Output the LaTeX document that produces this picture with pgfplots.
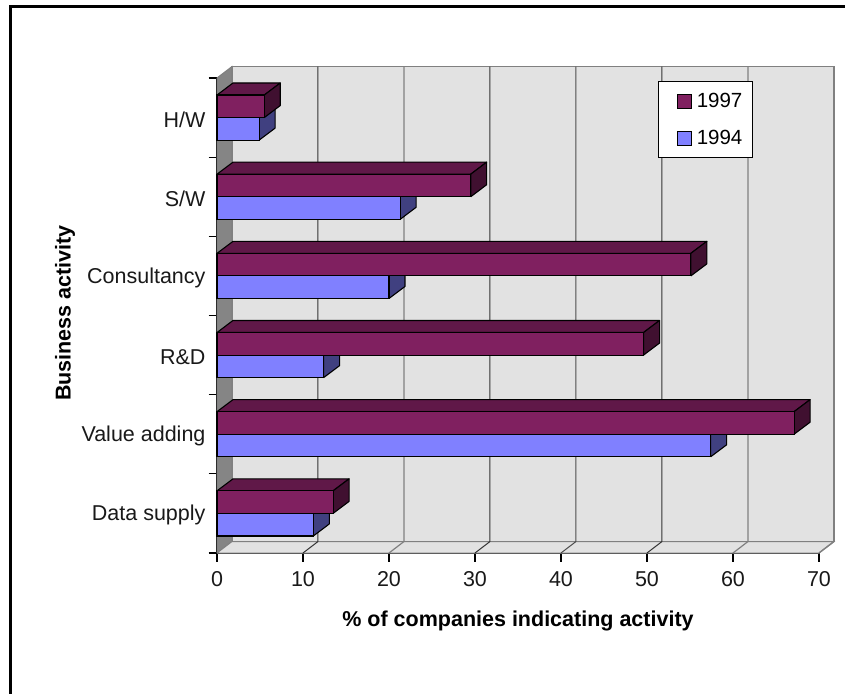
\documentclass[border=0pt]{standalone}
\usepackage{pgfplots}
\usepackage{fontspec}
\setmainfont{Liberation Sans}
\pgfplotsset{compat=1.18}
\definecolor{wine}{HTML}{802060}
\definecolor{winetop}{HTML}{601848}
\definecolor{wineside}{HTML}{401030}
\definecolor{peri}{HTML}{8080FF}
\definecolor{periside}{HTML}{404080}
\definecolor{wall}{HTML}{E2E2E2}
\definecolor{sidewall}{HTML}{858585}
\definecolor{edge}{HTML}{808080}
% faces of a bar in depth: value, category centre
\newcommand{\sideA}[2]{%
  \pgfmathsetmacro{\va}{#1+1.86}\pgfmathsetmacro{\ya}{#2}\pgfmathsetmacro{\yb}{#2+0.285}\pgfmathsetmacro{\yc}{#2+0.437}\pgfmathsetmacro{\yd}{#2+0.152}%
  \addplot[forget plot,fill=winetop,draw=black,line width=1.1pt,line join=round] coordinates {(0,\yb)(1.86,\yc)(\va,\yc)(#1,\yb)(0,\yb)};
  \addplot[forget plot,fill=wineside,draw=black,line width=1.1pt,line join=round] coordinates {(#1,\ya)(#1,\yb)(\va,\yc)(\va,\yd)(#1,\ya)};
}
\newcommand{\sideB}[2]{%
  \pgfmathsetmacro{\va}{#1+1.86}\pgfmathsetmacro{\ya}{#2-0.285}\pgfmathsetmacro{\yb}{#2}\pgfmathsetmacro{\yc}{#2+0.152}\pgfmathsetmacro{\yd}{#2-0.133}%
  \addplot[forget plot,fill=periside,draw=black,line width=1.1pt,line join=round] coordinates {(#1,\ya)(#1,\yb)(\va,\yc)(\va,\yd)(#1,\ya)};
}
\begin{document}
\begin{tikzpicture}[x=1pt,y=1pt]
\path[use as bounding box] (0,0) rectangle (845,693);
\draw[line width=3pt] (10.5,-5) -- (10.5,686.5) -- (860,686.5);
\begin{axis}[
  at={(217pt,140pt)},anchor=south west,
  scale only axis,width=602pt,height=475pt,
  xmin=0,xmax=70,ymin=0,ymax=6,clip=false,
  axis x line*=bottom,axis y line*=left,
  axis line style={black,line width=1.1pt,-},
  every tick/.style={black,line width=1.1pt},
  xtick={0,10,...,70},ytick={0,1,...,6},yticklabels={},
  tick align=outside,major tick length=8.5pt,
  extra y ticks={0.5,1.5,2.5,3.5,4.5,5.5},
  extra y tick labels={Data supply,Value adding,R\&D,Consultancy,S/W,H/W},
  extra y tick style={major tick length=0pt,yticklabel style={xshift=-8pt,yshift=-2pt}},
  tick label style={font=\fontsize{21.5}{24}\selectfont,/pgf/number format/assume math mode=true,text=black!90},
  xticklabel style={yshift=-6pt},
  xlabel={\% of companies indicating activity},
  ylabel={Business activity},
  label style={font=\bfseries\fontsize{21.5}{24}\selectfont},
  xlabel style={at={(axis description cs:0.5,-0.143)},anchor=center},
  ylabel style={at={(axis description cs:-0.2525,0.505)},anchor=center},
  legend style={at={(0.733,0.993)},anchor=north west,draw=black,fill=white,line width=1pt,
    font=\fontsize{20.5}{24}\selectfont,row sep=17.5pt,inner xsep=8pt,inner ysep=9.5pt},
  legend cell align=left,
]
\addlegendimage{legend image code/.code={\path (0pt,0pt);\draw[fill=wine,draw=black,line width=1.1pt] (10pt,-7pt) rectangle (24pt,7pt);\path (27pt,0pt);}}
\addlegendentry{1997}
\addlegendimage{legend image code/.code={\path (0pt,0pt);\draw[fill=peri,draw=black,line width=1.1pt] (10pt,-7pt) rectangle (24pt,7pt);\path (27pt,0pt);}}
\addlegendentry{1994}
% walls and floor
\addplot[forget plot,fill=wall,draw=edge,line width=1.4pt] coordinates {(1.744,0.145)(1.744,6.145)(71.744,6.145)(71.744,0.145)(1.744,0.145)};
\addplot[forget plot,fill=sidewall,draw=edge,line width=1pt] coordinates {(0,0)(0,6)(1.744,6.145)(1.744,0.145)(0,0)};
\addplot[forget plot,fill=wall,draw=edge,line width=1pt] coordinates {(0,0)(1.744,0.145)(71.744,0.145)(70,0)(0,0)};
% gridlines
\addplot[forget plot,black!80,line width=1pt] coordinates {(10,0)(11.744,0.145)(11.744,6.145)};
\addplot[forget plot,edge,line width=1.2pt] coordinates {(20,0)(21.744,0.145)(21.744,6.145)};
\addplot[forget plot,black!80,line width=1pt] coordinates {(30,0)(31.744,0.145)(31.744,6.145)};
\addplot[forget plot,black!70,line width=1pt] coordinates {(40,0)(41.744,0.145)(41.744,6.145)};
\addplot[forget plot,black!80,line width=1pt] coordinates {(50,0)(51.744,0.145)(51.744,6.145)};
\addplot[forget plot,edge,line width=1.2pt] coordinates {(60,0)(61.744,0.145)(61.744,6.145)};
\addplot[forget plot,edge,line width=1.4pt] coordinates {(70,0)(71.744,0.145)(71.744,6.145)};
% 1994 series
\sideB{11.2}{0.5}\sideB{57.4}{1.5}\sideB{12.4}{2.5}\sideB{20.0}{3.5}\sideB{21.3}{4.5}\sideB{4.9}{5.5}
\addplot[forget plot,xbar,bar width=0.285,bar shift=-0.1425,fill=peri,draw=black,line width=1.1pt] coordinates {(11.2,0.5)(57.4,1.5)(12.4,2.5)(20.0,3.5)(21.3,4.5)(4.9,5.5)};
% 1997 series
\sideA{13.5}{0.5}\sideA{67.1}{1.5}\sideA{49.6}{2.5}\sideA{55.1}{3.5}\sideA{29.5}{4.5}\sideA{5.5}{5.5}
\addplot[forget plot,xbar,bar width=0.285,bar shift=0.1425,fill=wine,draw=black,line width=1.1pt] coordinates {(13.5,0.5)(67.1,1.5)(49.6,2.5)(55.1,3.5)(29.5,4.5)(5.5,5.5)};
\end{axis}
\end{tikzpicture}
\end{document}
